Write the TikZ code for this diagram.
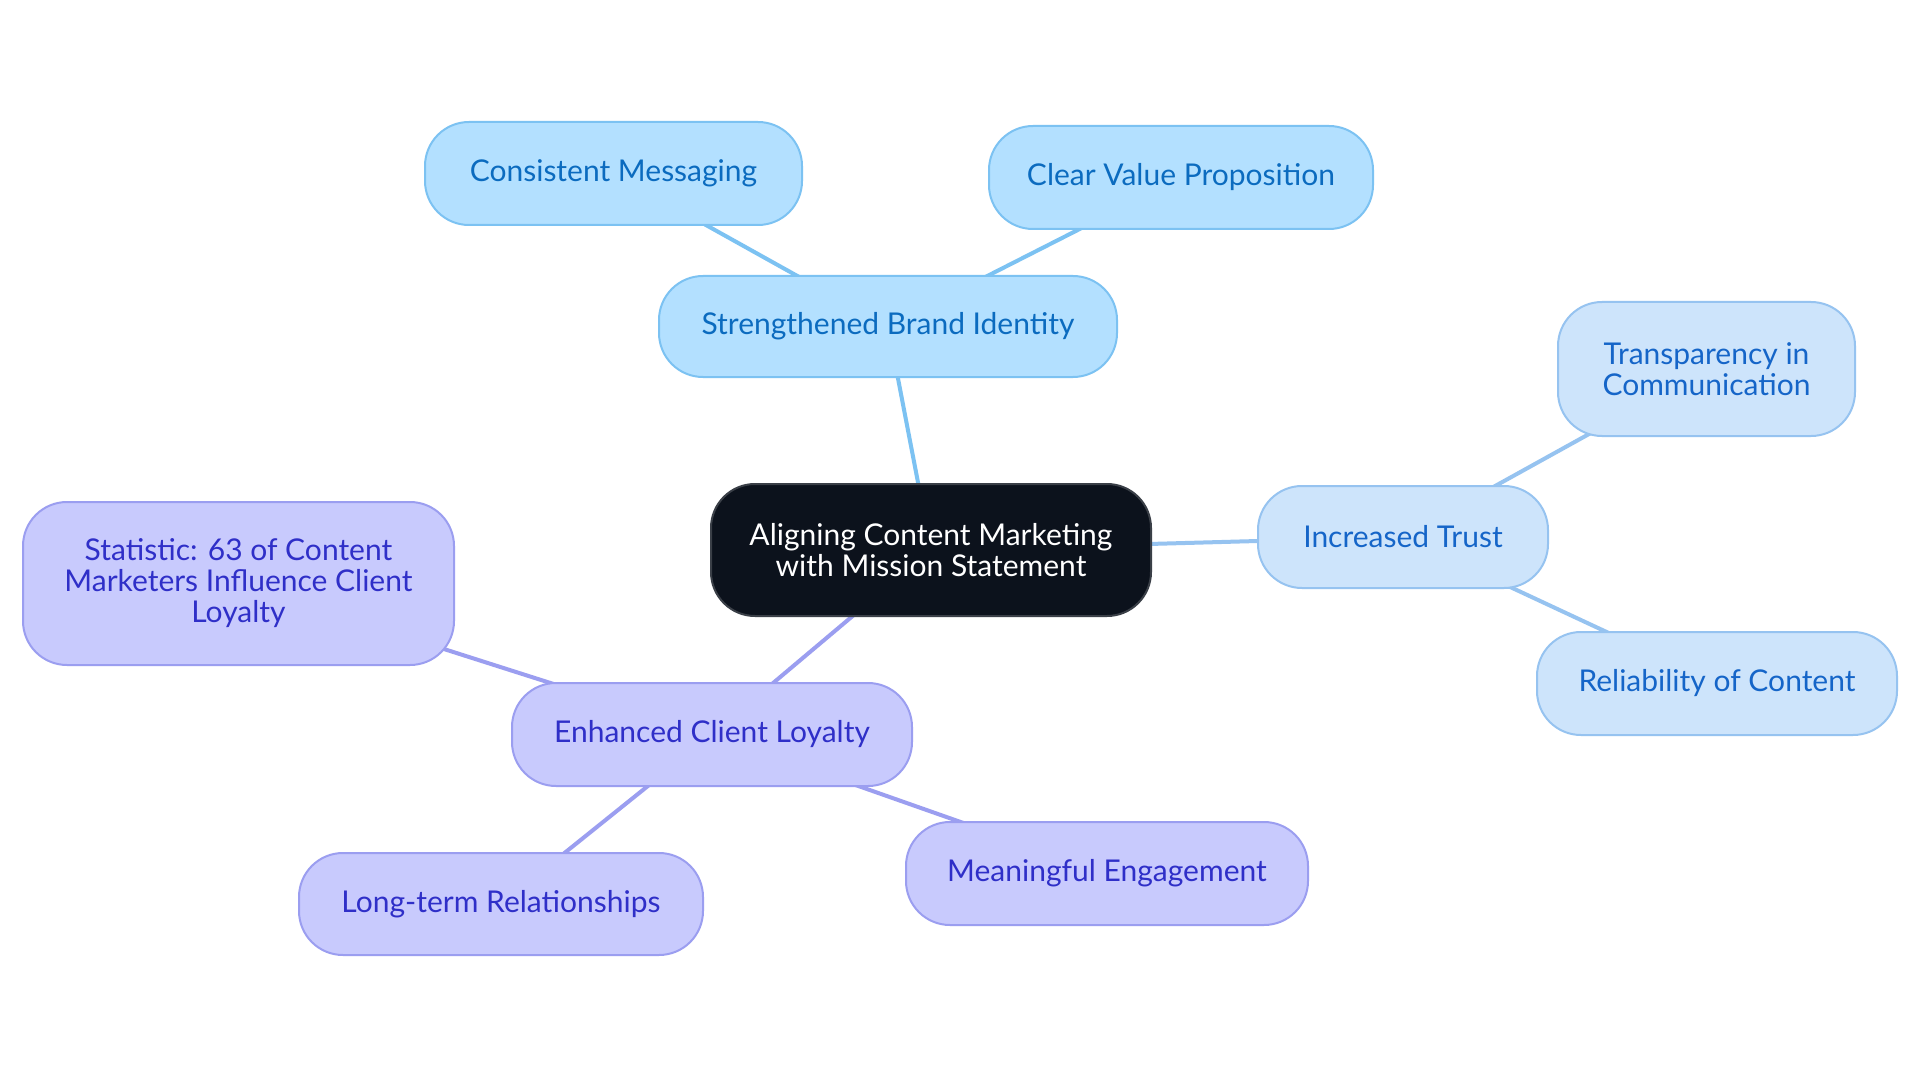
\documentclass[tikz,border=0pt]{standalone}
\usepackage{fontspec}
\setmainfont{Lato}
\pgfdeclarelayer{bg}
\pgfsetlayers{bg,main}
\definecolor{cfill}{HTML}{0C121C}
\definecolor{cdraw}{HTML}{3A3F47}
\definecolor{bfill}{HTML}{B3E0FF}
\definecolor{bdraw}{HTML}{7CC2F2}
\definecolor{btext}{HTML}{0B6BBF}
\definecolor{tfill}{HTML}{CDE4FB}
\definecolor{tdraw}{HTML}{96C3F0}
\definecolor{ttext}{HTML}{1565C8}
\definecolor{pfill}{HTML}{C8CAFD}
\definecolor{pdraw}{HTML}{9B9EF0}
\definecolor{ptext}{HTML}{2F2FC8}
\tikzset{
  x=1pt,y=-1pt,
  box/.style={rounded corners=44pt, line width=2pt, align=center, inner sep=0pt,
    font=\fontsize{30}{31}\selectfont},
  centerbox/.style={box, fill=cfill, draw=cdraw, text=white},
  bluebox/.style={box, fill=bfill, draw=bdraw, text=btext},
  trustbox/.style={box, fill=tfill, draw=tdraw, text=ttext},
  purplebox/.style={box, fill=pfill, draw=pdraw, text=ptext},
  link/.style={line width=4pt},
}
\newcommand{\boxat}[6]{\node[#1, minimum width=#4pt, minimum height=#5pt] (#6) at (#2,#3)}
\begin{document}
\begin{tikzpicture}
\useasboundingbox (0,0) rectangle (1920,1083);
\boxat{centerbox}{931}{550}{440}{132}{root} {Aligning Content Marketing\\with Mission Statement};
\boxat{bluebox}{888}{326.5}{458}{101}{brand} {Strengthened Brand Identity};
\boxat{bluebox}{613.5}{173.5}{377}{103}{cons} {Consistent Messaging};
\boxat{bluebox}{1181}{177.5}{384}{103}{clear} {Clear Value Proposition};
\boxat{trustbox}{1403}{537}{290}{102}{trust} {Increased Trust};
\boxat{trustbox}{1706.5}{369}{297}{134}{transp} {Transparency in\\Communication};
\boxat{trustbox}{1717}{683.5}{360}{103}{reli} {Reliability of Content};
\boxat{purplebox}{238.5}{583.5}{431}{163}{stat} {Statistic: 63 of Content\\Marketers Influence Client\\Loyalty};
\boxat{purplebox}{712}{734.5}{400}{103}{enh} {Enhanced Client Loyalty};
\boxat{purplebox}{1107}{873.5}{402}{103}{mean} {Meaningful Engagement};
\boxat{purplebox}{501}{904}{404}{102}{long} {Long-term Relationships};
\begin{pgfonlayer}{bg}
\fill[white] (0,0) rectangle (1920,1083);
\draw[link, draw=bdraw] (root.center) -- (brand.center);
\draw[link, draw=bdraw] (brand.center) -- (cons.center);
\draw[link, draw=bdraw] (brand.center) -- (clear.center);
\draw[link, draw=tdraw] (root.center) -- (trust.center);
\draw[link, draw=tdraw] (trust.center) -- (transp.center);
\draw[link, draw=tdraw] (trust.center) -- (reli.center);
\draw[link, draw=pdraw] (root.center) -- (enh.center);
\draw[link, draw=pdraw] (enh.center) -- (stat.center);
\draw[link, draw=pdraw] (enh.center) -- (mean.center);
\draw[link, draw=pdraw] (enh.center) -- (long.center);
\end{pgfonlayer}
\end{tikzpicture}
\end{document}
